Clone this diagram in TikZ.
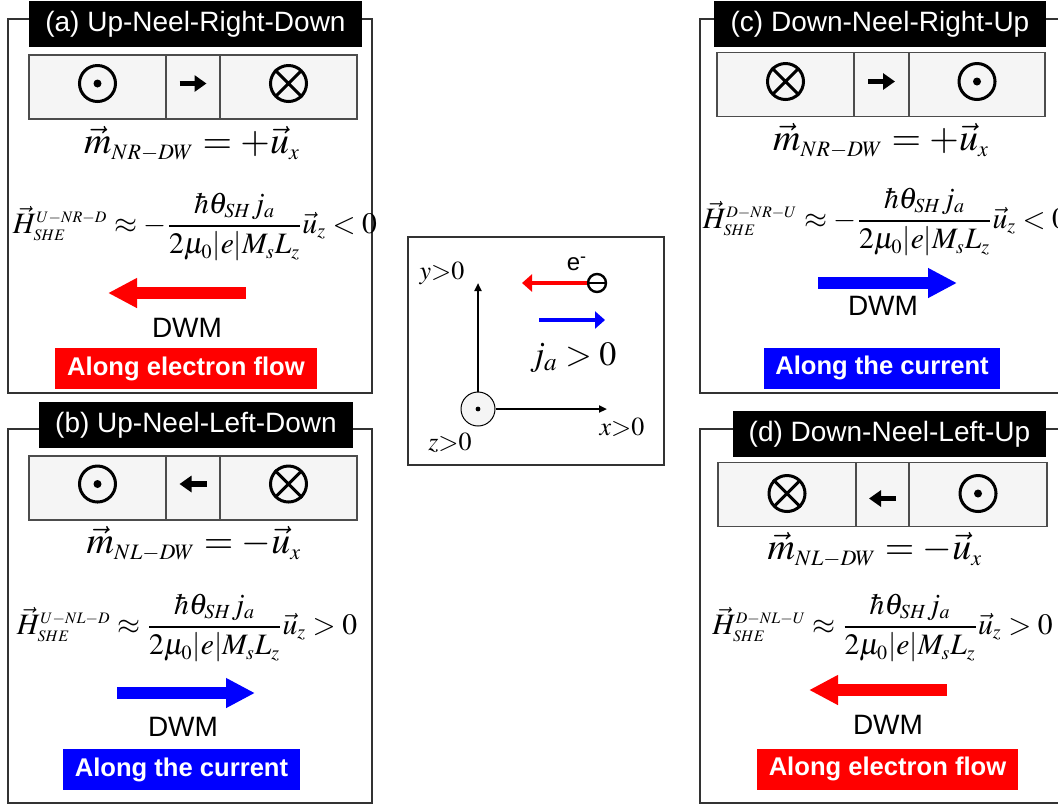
\documentclass[tikz,border=0pt]{standalone}
\usepackage{amsmath}
\usepackage{mathptmx}
\usepackage[no-math]{fontspec}
\setmainfont{Liberation Serif}
\setsansfont{Liberation Sans}
\usetikzlibrary{arrows.meta,calc}
\DeclareMathSizes{19}{19}{11}{8}
\DeclareMathSizes{14.8}{14.8}{10}{8}
\definecolor{framegray}{gray}{0.2}
\definecolor{cellline}{gray}{0.3}
\definecolor{cellgray}{gray}{0.96}
\definecolor{dwmred}{RGB}{255,0,0}
\definecolor{dwmblue}{RGB}{0,0,255}

\begin{document}
\begin{tikzpicture}[x=0.5pt,y=-0.5pt,
  frame/.style={draw=framegray,line width=0.6pt},
  title/.style={fill=black,text=white,font=\sffamily\fontsize{14}{16}\selectfont,
                minimum height=23pt,inner sep=0pt},
  cell/.style={draw=cellline,fill=cellgray,line width=0.7pt,minimum height=32pt,inner sep=0pt},
  sym/.style={circle,draw,line width=1.5pt,minimum size=18pt,inner sep=0pt},
  xline/.style={line width=1.5pt,shorten <=1.2pt,shorten >=1.2pt},
  meq/.style={font=\fontsize{19}{22}\selectfont,inner sep=0pt},
  heq/.style={font=\fontsize{14.8}{17}\selectfont,inner sep=0pt},
  dwm/.style={font=\sffamily\fontsize{14}{16}\selectfont},
  tag/.style={text=white,font=\sffamily\bfseries\fontsize{12.8}{14}\selectfont,
              minimum height=20.5pt,inner sep=0pt},
  big/.style={line width=6pt,-{Triangle[length=14.5pt,width=14pt]}},
  small/.style={line width=2.6pt,-{Triangle[length=6pt,width=8pt]}},
  mid/.style={line width=2.4pt,-{Triangle[length=5pt,width=8.5pt]}},
  axis/.style={line width=1pt,-{Triangle[length=4pt,width=3.5pt]}}]
\useasboundingbox (0,0) rectangle (1058,805);

% (a) up - right - down
\draw[frame] (8,19) rectangle (372,393);
\node[title,minimum width=166.5pt] (ta) at (195.5,24) {(a) Up-Neel-Right-Down};
\node[cell,minimum width=68.5pt] (a1) at (97.5,87) {};
\node[cell,minimum width=27pt] (a2) at (193,87) {};
\node[cell,minimum width=68.5pt] (a3) at (288.5,87) {};
\node[sym] (a1s) at ([yshift=1.75pt]a1.center) {}; \fill (a1s) circle (2pt);
\node[sym] (a3s) at ([yshift=1.75pt]a3.center) {};
\draw[xline] (a3s.north west) -- (a3s.south east) (a3s.north east) -- (a3s.south west);
\draw[small] ([xshift=-6.75pt,yshift=1.75pt]a2.center) -- ([xshift=6.75pt,yshift=1.75pt]a2.center);
\node[meq] (ma) at (192,144) {$\vec m_{NR-DW}=+\vec u_x$};
\node[heq] (ha) at (195,227)
  {$\vec H^{\scriptscriptstyle U-NR-D}_{\scriptscriptstyle SHE}\approx-\dfrac{\hbar\theta_{SH}j_a}{2\mu_0|e|M_sL_z}\vec u_z<0$};
\coordinate (a-s) at (246,293); \coordinate (a-e) at (108,293);
\draw[big,dwmred] (a-s) -- (a-e);
\node[dwm] (da) at (187,328) {DWM};
\node[tag,fill=dwmred,minimum width=131pt] (ga) at (186,368.5) {Along electron flow};

% (b) up - left - down
\draw[frame] (8,429) rectangle (372,803);
\node[title,minimum width=157pt] (tb) at (196,425) {(b) Up-Neel-Left-Down};
\node[cell,minimum width=68.5pt] (b1) at (97.5,488) {};
\node[cell,minimum width=27pt] (b2) at (193,488) {};
\node[cell,minimum width=68.5pt] (b3) at (288.5,488) {};
\node[sym] (b1s) at ([yshift=2pt]b1.center) {}; \fill (b1s) circle (2pt);
\node[sym] (b3s) at ([yshift=2pt]b3.center) {};
\draw[xline] (b3s.north west) -- (b3s.south east) (b3s.north east) -- (b3s.south west);
\draw[small] ([xshift=6.75pt,yshift=2pt]b2.center) -- ([xshift=-6.75pt,yshift=2pt]b2.center);
\node[meq] (mb) at (194,544) {$\vec m_{NL-DW}=-\vec u_x$};
\node[heq] (hb) at (187,628)
  {$\vec H^{\scriptscriptstyle U-NL-D}_{\scriptscriptstyle SHE}\approx\dfrac{\hbar\theta_{SH}j_a}{2\mu_0|e|M_sL_z}\vec u_z>0$};
\coordinate (b-s) at (117,693); \coordinate (b-e) at (255,693);
\draw[big,dwmblue] (b-s) -- (b-e);
\node[dwm] (db) at (183,727) {DWM};
\node[tag,fill=dwmblue,minimum width=118.5pt] (gb) at (181.5,769.5) {Along the current};

% (c) down - right - up
\draw[frame] (700,19) rectangle (1064,393);
\node[title,minimum width=166pt] (tc) at (880,24) {(c) Down-Neel-Right-Up};
\node[cell,minimum width=68.5pt] (c1) at (785.5,84.5) {};
\node[cell,minimum width=27.5pt] (c2) at (881.5,84.5) {};
\node[cell,minimum width=68pt] (c3) at (977,84.5) {};
\node[sym] (c1s) at ([yshift=1.5pt]c1.center) {};
\draw[xline] (c1s.north west) -- (c1s.south east) (c1s.north east) -- (c1s.south west);
\node[sym] (c3s) at ([yshift=1.5pt]c3.center) {}; \fill (c3s) circle (2pt);
\draw[small] ([xshift=-6.75pt,yshift=1.5pt]c2.center) -- ([xshift=6.75pt,yshift=1.5pt]c2.center);
\node[meq] (mc) at (881,141) {$\vec m_{NR-DW}=+\vec u_x$};
\node[heq] (hc) at (885,222)
  {$\vec H^{\scriptscriptstyle D-NR-U}_{\scriptscriptstyle SHE}\approx-\dfrac{\hbar\theta_{SH}j_a}{2\mu_0|e|M_sL_z}\vec u_z<0$};
\coordinate (c-s) at (818,283); \coordinate (c-e) at (957,283);
\draw[big,dwmblue] (c-s) -- (c-e);
\node[dwm] (dc) at (883,306) {DWM};
\node[tag,fill=dwmblue,minimum width=118pt] (gc) at (882,368) {Along the current};

% (d) down - left - up
\draw[frame] (700,429) rectangle (1064,803);
\node[title,minimum width=156.5pt] (td) at (889.5,434) {(d) Down-Neel-Left-Up};
\node[cell,minimum width=69pt] (d1) at (787,494.5) {};
\node[cell,minimum width=26.5pt] (d2) at (882.5,494.5) {};
\node[cell,minimum width=69pt] (d3) at (978,494.5) {};
\node[sym] (d1s) at ([yshift=0.5pt]d1.center) {};
\draw[xline] (d1s.north west) -- (d1s.south east) (d1s.north east) -- (d1s.south west);
\node[sym] (d3s) at ([yshift=0.5pt]d3.center) {}; \fill (d3s) circle (2pt);
\draw[small] ([xshift=6.75pt,yshift=-2pt]d2.center) -- ([xshift=-6.75pt,yshift=-2pt]d2.center);
\node[meq] (md) at (875,550) {$\vec m_{NL-DW}=-\vec u_x$};
\node[heq] (hd) at (882.5,628)
  {$\vec H^{\scriptscriptstyle D-NL-U}_{\scriptscriptstyle SHE}\approx\dfrac{\hbar\theta_{SH}j_a}{2\mu_0|e|M_sL_z}\vec u_z>0$};
\coordinate (d-s) at (947,690); \coordinate (d-e) at (809,690);
\draw[big,dwmred] (d-s) -- (d-e);
\node[dwm] (dd) at (888,725) {DWM};
\node[tag,fill=dwmred,minimum width=130.5pt] (gd) at (887.5,769) {Along electron flow};

% axes and current in the middle
\draw[frame] (408,237) rectangle (664,465);
\node[circle,draw,fill=cellgray,line width=0.5pt,minimum size=17pt,inner sep=0pt] (o) at (478,409) {};
\fill (o.center) circle (1.2pt);
\coordinate (ytip) at (478,283); \coordinate (xtip) at (607,409);
\draw[axis] (o) -- (ytip);
\draw[axis] (o) -- (xtip);
\node[font=\fontsize{13}{15}\selectfont] (ylab) at (442,273) {$y{>}0$};
\node[font=\fontsize{13}{15}\selectfont] (xlab) at (622,427) {$x{>}0$};
\node[font=\fontsize{13}{15}\selectfont] (zlab) at (450,443) {$z{>}0$};
\node[circle,draw,line width=1.2pt,minimum size=9pt,inner sep=0pt] (el) at (597,283) {};
\draw[line width=1.2pt] (el.west) -- (el.east);
\node[font=\sffamily\fontsize{12}{14}\selectfont] (elab) at (577,264) {e\textsuperscript{-}};
\coordinate (etip) at (522,283);
\draw[mid,dwmred] (el.west) -- (etip);
\coordinate (js) at (539,320); \coordinate (je) at (605,320);
\draw[mid,dwmblue] (js) -- (je);
\node[font=\fontsize{17}{20}\selectfont] (jlab) at (573,358) {$j_a>0$};
\end{tikzpicture}
\end{document}
